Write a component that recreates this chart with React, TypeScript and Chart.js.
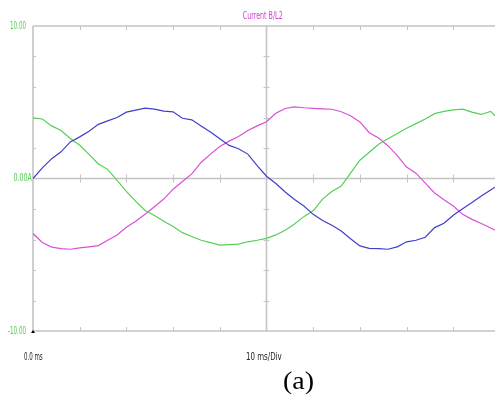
import React, { useEffect, useRef } from "react";
import { Chart, registerables } from "chart.js";

Chart.register(...registerables);

const timesMs = [0, 2, 4, 6, 8, 10, 12, 14, 16, 18, 20, 22, 24, 26, 28, 30, 32, 34, 36, 38, 40, 42, 44, 46, 48, 50, 52, 54, 56, 58, 60, 62, 64, 66, 68, 70, 72, 74, 76, 78, 80, 82, 84, 86, 88, 90, 92, 94, 96, 98, 99];

const blueA = [0, 0.7, 1.3, 1.75, 2.4, 2.73, 3.1, 3.55, 3.78, 4.0, 4.35, 4.48, 4.62, 4.55, 4.42, 4.37, 3.95, 3.85, 3.45, 3.05, 2.6, 2.17, 1.95, 1.6, 0.85, 0.15, -0.33, -0.88, -1.38, -1.8, -2.35, -2.75, -3.07, -3.45, -3.95, -4.42, -4.58, -4.6, -4.64, -4.48, -4.15, -4.05, -3.85, -3.22, -2.93, -2.41, -1.98, -1.58, -1.15, -0.75, -0.55];

const greenA = [3.97, 3.9, 3.45, 3.15, 2.62, 2.18, 1.58, 0.95, 0.6, -0.12, -0.85, -1.5, -2.1, -2.42, -2.8, -3.15, -3.55, -3.8, -4.05, -4.2, -4.37, -4.33, -4.3, -4.15, -4.05, -3.93, -3.7, -3.39, -2.98, -2.5, -2.12, -1.35, -0.85, -0.5, 0.35, 1.2, 1.72, 2.25, 2.6, 2.95, 3.3, 3.6, 3.9, 4.25, 4.4, 4.5, 4.55, 4.35, 4.2, 4.4, 4.1];

const magentaA = [-3.61, -4.2, -4.5, -4.6, -4.64, -4.55, -4.48, -4.4, -4.05, -3.7, -3.2, -2.8, -2.35, -1.85, -1.35, -0.7, -0.2, 0.3, 1.05, 1.6, 2.1, 2.45, 2.75, 3.15, 3.45, 3.72, 4.28, 4.59, 4.7, 4.64, 4.6, 4.57, 4.54, 4.38, 4.12, 3.71, 3.0, 2.65, 2.15, 1.5, 0.75, 0.35, -0.3, -0.95, -1.4, -1.8, -2.35, -2.68, -2.95, -3.25, -3.39];

const xDivTicks = [10, 20, 30, 40, 50, 60, 70, 80, 90];
const yDivTicks = [-8, -6, -4, -2, 2, 4, 6, 8];
const yLabels = ["10.00", "0.00A", "-10.00"];
const titleText = "Current B/L2";
const xStartLabel = "0.0 ms";
const xDivLabel = "10 ms/Div";
const captionText = "(a)";

const SANS = '"DejaVu Sans", sans-serif';

function fitText(ctx: any, text: string, left: number, right: number, y: number) {
  const w = ctx.measureText(text).width;
  const sx = (right - left) / w;
  ctx.save();
  ctx.translate(left, y);
  ctx.scale(sx, 1);
  ctx.textAlign = "left";
  ctx.textBaseline = "middle";
  ctx.fillText(text, 0, 0);
  ctx.restore();
}

const scopePlugin = {
  id: "scopeGrid",
  beforeDatasetsDraw(chart: any) {
    const ctx = chart.ctx;
    const xs = chart.scales.x;
    const ys = chart.scales.y;
    const L = chart.chartArea.left;
    const R = chart.chartArea.right;
    const T = chart.chartArea.top;
    const B = chart.chartArea.bottom;
    const y0 = ys.getPixelForValue(0);
    const xc = xs.getPixelForValue(50);
    ctx.save();
    ctx.strokeStyle = "#c4c4c4";
    ctx.lineWidth = 1.6;
    ctx.beginPath();
    ctx.moveTo(L, T); ctx.lineTo(R + 2, T);
    ctx.moveTo(L, B); ctx.lineTo(R + 2, B);
    ctx.moveTo(L, T); ctx.lineTo(L, B);
    ctx.moveTo(L, y0); ctx.lineTo(R + 2, y0);
    ctx.moveTo(xc, T); ctx.lineTo(xc, B);
    ctx.stroke();
    ctx.lineWidth = 1;
    ctx.beginPath();
    for (const t of xDivTicks) {
      const px = Math.round(xs.getPixelForValue(t)) + 0.5;
      ctx.moveTo(px, T); ctx.lineTo(px, T + 4);
      ctx.moveTo(px, B); ctx.lineTo(px, B - 4);
      ctx.moveTo(px, y0 - 4); ctx.lineTo(px, y0 + 4);
    }
    for (const v of yDivTicks) {
      const py = Math.round(ys.getPixelForValue(v)) + 0.5;
      ctx.moveTo(L, py); ctx.lineTo(L + 3, py);
      ctx.moveTo(xc - 3, py); ctx.lineTo(xc + 3, py);
    }
    ctx.stroke();
    ctx.fillStyle = "#000";
    ctx.beginPath();
    ctx.moveTo(L - 2, B + 2);
    ctx.lineTo(L + 2, B + 2);
    ctx.lineTo(L, B - 1);
    ctx.closePath();
    ctx.fill();
    ctx.font = "11px " + SANS;
    ctx.fillStyle = "#55cc55";
    fitText(ctx, yLabels[0], 10, 26, ys.getPixelForValue(10) + 0.5);
    fitText(ctx, yLabels[1], 13.5, 31.7, y0);
    fitText(ctx, yLabels[2], 8, 26, ys.getPixelForValue(-10) + 0.5);
    ctx.fillStyle = "#d040d0";
    ctx.font = "11px " + SANS;
    fitText(ctx, titleText, 242.7, 282.7, 15.7);
    ctx.fillStyle = "#222";
    ctx.font = "10px " + SANS;
    fitText(ctx, xStartLabel, 24, 42.7, 357);
    fitText(ctx, xDivLabel, 246, 281.7, 357);
    ctx.fillStyle = "#000";
    ctx.font = '25px "Liberation Serif", "Times New Roman", serif';
    fitText(ctx, captionText, 283, 314, 382);
    ctx.restore();
  },
};

export default function App() {
  const ref = useRef<HTMLCanvasElement | null>(null);
  useEffect(() => {
    if (!ref.current) return;
    const mk = (arr: number[]) => timesMs.map((t, i) => ({ x: t, y: arr[i] }));
    const chart = new Chart(ref.current, {
      type: "line",
      data: {
        datasets: [
          { data: mk(blueA), borderColor: "#4040c8", borderWidth: 1.2, pointRadius: 0, tension: 0 },
          { data: mk(greenA), borderColor: "#55d055", borderWidth: 1.2, pointRadius: 0, tension: 0 },
          { data: mk(magentaA), borderColor: "#d850d8", borderWidth: 1.2, pointRadius: 0, tension: 0 },
        ],
      },
      options: {
        responsive: false,
        animation: false,
        devicePixelRatio: 1,
        layout: { padding: { left: 33, top: 26, right: 0, bottom: 63 } },
        plugins: { legend: { display: false }, tooltip: { enabled: false } },
        scales: {
          x: { type: "linear", min: 0, max: 98.93, display: false },
          y: { type: "linear", min: -10, max: 10, display: false },
        },
      },
      plugins: [scopePlugin],
    });
    return () => chart.destroy();
  }, []);
  return (
    <div style={{ position: "fixed", left: 0, top: 0, width: 495, height: 394, overflow: "hidden", background: "#fff" }}>
      <canvas ref={ref} width={495} height={394} style={{ width: 495, height: 394, display: "block" }} />
    </div>
  );
}
